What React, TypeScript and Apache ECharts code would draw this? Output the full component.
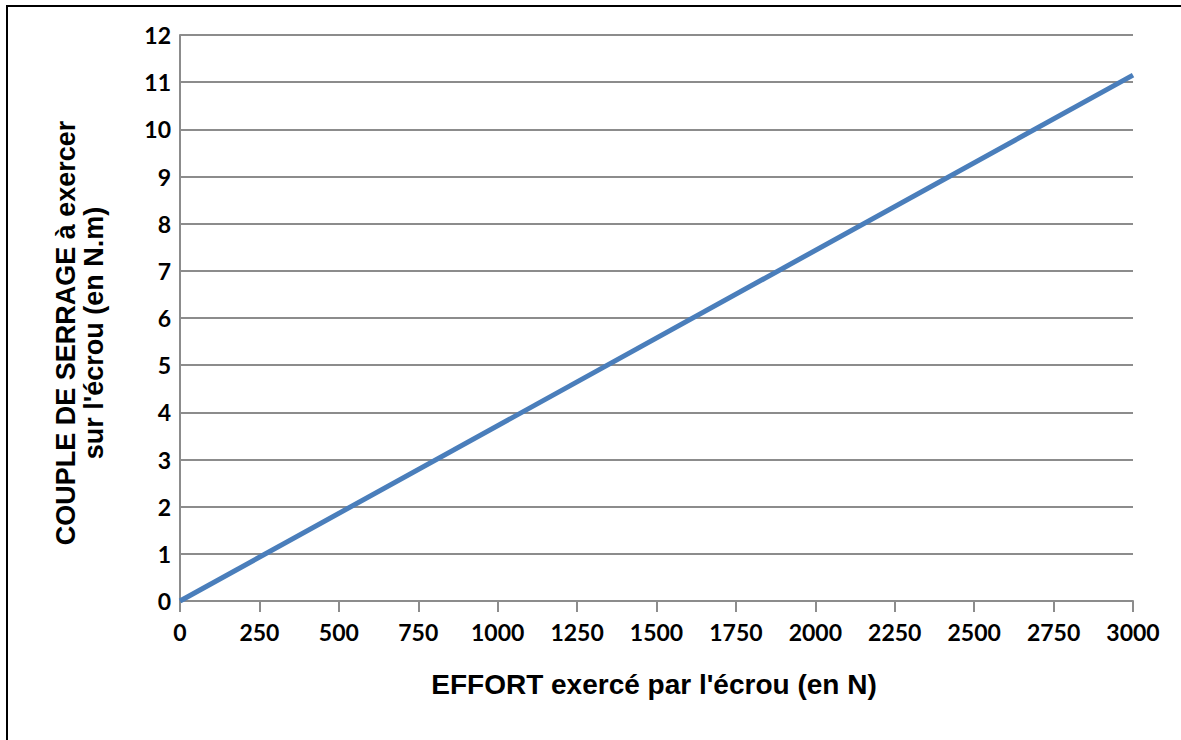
import React, { useEffect, useRef } from "react";
import * as echarts from "echarts";

const effortN = [0, 3000];
const coupleNm = [0, 11.15];
const xTicks = [0, 250, 500, 750, 1000, 1250, 1500, 1750, 2000, 2250, 2500, 2750, 3000];
const yTicks = [0, 1, 2, 3, 4, 5, 6, 7, 8, 9, 10, 11, 12];
const xTitle = "EFFORT exercé par l'écrou (en N)";
const yTitleLines = ["COUPLE DE SERRAGE à exercer", "sur l'écrou (en N.m)"];

export default function App() {
  const ref = useRef<HTMLDivElement>(null);
  useEffect(() => {
    if (!ref.current) return;
    const chart = echarts.init(ref.current, undefined, { renderer: "svg" });
    const tickFont = { fontFamily: "Lato", fontWeight: "bold" as const, fontSize: 23, color: "#000" };
    chart.setOption({
      animation: false,
      backgroundColor: "#fff",
      grid: { left: 180, right: 48, top: 35, bottom: 139 },
      xAxis: {
        type: "value",
        min: xTicks[0],
        max: xTicks[xTicks.length - 1],
        interval: xTicks[1] - xTicks[0],
        axisLine: { show: true, lineStyle: { color: "#8c8c8c", width: 2 } },
        axisTick: { show: true, length: 11, lineStyle: { color: "#8c8c8c", width: 2 } },
        axisLabel: { ...tickFont, margin: 19, formatter: (v: number) => String(v) },
        splitLine: { show: false },
      },
      yAxis: {
        type: "value",
        min: yTicks[0],
        max: yTicks[yTicks.length - 1],
        interval: yTicks[1] - yTicks[0],
        axisLine: { show: true, lineStyle: { color: "#8c8c8c", width: 2 } },
        axisTick: { show: false },
        axisLabel: { ...tickFont, margin: 9, formatter: (v: number) => String(v) },
        splitLine: { show: true, lineStyle: { color: "#8c8c8c", width: 2 } },
      },
      series: [
        {
          type: "line",
          data: effortN.map((x, i) => [x, coupleNm[i]]),
          showSymbol: false,
          lineStyle: { color: "#4a7ebb", width: 5 },
        },
      ],
      graphic: [
        {
          type: "polyline",
          shape: { points: [[7, 760], [7, 6], [1200, 6]] },
          style: { stroke: "#000", lineWidth: 2, fill: null },
        },
        {
          type: "text",
          x: 654,
          y: 684,
          style: {
            text: xTitle,
            fontFamily: "Liberation Sans",
            fontWeight: "bold",
            fontSize: 28,
            fill: "#000",
            align: "center",
            verticalAlign: "middle",
          },
        },
        {
          type: "text",
          x: 80,
          y: 333,
          rotation: Math.PI / 2,
          style: {
            text: yTitleLines.join("\n"),
            fontFamily: "Liberation Sans",
            fontWeight: "bold",
            fontSize: 27,
            lineHeight: 28,
            fill: "#000",
            align: "center",
            verticalAlign: "middle",
          },
        },
      ],
    });
    return () => chart.dispose();
  }, []);
  return (
    <div
      ref={ref}
      style={{ position: "fixed", left: 0, top: 0, width: 1181, height: 740 }}
    />
  );
}
